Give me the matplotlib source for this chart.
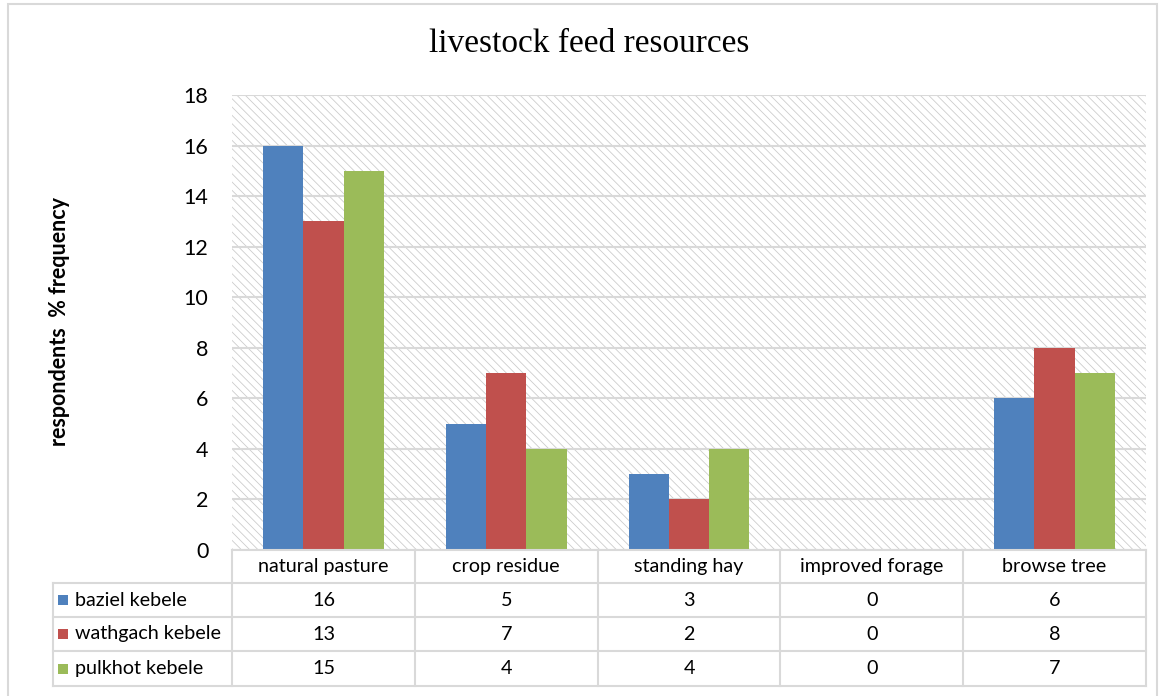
import matplotlib
matplotlib.use("Agg")
import matplotlib.pyplot as plt
from matplotlib.patches import Rectangle
from matplotlib.lines import Line2D

categories = ["natural pasture", "crop residue", "standing hay", "improved forage", "browse tree"]
series_names = ["baziel kebele", "wathgach kebele", "pulkhot kebele"]
baziel = [16, 5, 3, 0, 6]
wathgach = [13, 7, 2, 0, 8]
pulkhot = [15, 4, 4, 0, 7]
series_values = [baziel, wathgach, pulkhot]
colors = ["#4F81BD", "#C0504D", "#9BBB59"]

W, H = 1166, 696
plt.rcParams["font.family"] = ["Lato", "DejaVu Sans"]
plt.rcParams["hatch.linewidth"] = 0.6

fig = plt.figure(figsize=(W / 100, H / 100), dpi=100)


def fx(x):
    return x / W


def fy(y):
    return 1 - y / H


# plot area in pixel terms
left, right, top, bottom = 232, 1146, 95, 550
ax = fig.add_axes([fx(left), fy(bottom), fx(right - left), (bottom - top) / H])

# hatched background
ax.add_patch(Rectangle((0, 0), 1, 1, transform=ax.transAxes, facecolor="white",
                       edgecolor="#cccccc", hatch="\\\\\\\\", linewidth=0, zorder=0))

ax.set_ylim(0, 18)
ax.set_yticks(range(0, 19, 2))
ax.set_xlim(-0.5, len(categories) - 0.5)
ax.set_xticks([])
ax.grid(axis="y", color="#d9d9d9", linewidth=1.5, zorder=1)
ax.set_axisbelow(True)
for side in ["top", "right", "left"]:
    ax.spines[side].set_visible(False)
ax.spines["bottom"].set_color("#d9d9d9")
ax.spines["bottom"].set_linewidth(1.5)
ax.tick_params(axis="y", length=0, pad=17, labelsize=15.5)

bw = 0.22
for i, (vals, c) in enumerate(zip(series_values, colors)):
    xs = [k + (i - 1) * bw for k in range(len(categories))]
    ax.bar(xs, vals, width=bw, color=c, zorder=2)

fig.text(0.505, fy(44), "livestock feed resources", ha="center", va="center",
         fontsize=24, family=["Liberation Serif", "DejaVu Serif"])
fig.text(fx(60), fy(322), "respondents  % frequency", rotation=90, ha="center",
         va="center", fontsize=15.5, fontweight="bold")

# data table under the axis
row_y = [550, 583, 617, 651, 686]
lab_left = 53
grid_kw = dict(color="#d9d9d9", linewidth=1.5, transform=fig.transFigure)


def cat_px(v):
    return left + (v + 0.5) * (right - left) / len(categories)


for k in range(len(categories) + 1):
    x = cat_px(k - 0.5)
    fig.add_artist(Line2D([fx(x), fx(x)], [fy(row_y[0]), fy(row_y[-1])], **grid_kw))
fig.add_artist(Line2D([fx(lab_left), fx(lab_left)], [fy(row_y[1]), fy(row_y[-1])], **grid_kw))
for y in row_y[1:]:
    fig.add_artist(Line2D([fx(lab_left), fx(right)], [fy(y), fy(y)], **grid_kw))

for k, cat in enumerate(categories):
    yc = (row_y[0] + row_y[1]) / 2
    fig.text(fx(cat_px(k)), fy(yc), cat, ha="center", va="center", fontsize=14.2)
    for r, vals in enumerate(series_values):
        yc = (row_y[r + 1] + row_y[r + 2]) / 2
        fig.text(fx(cat_px(k)), fy(yc), str(vals[k]), ha="center", va="center", fontsize=14.2)

for r, (name, c) in enumerate(zip(series_names, colors)):
    yc = (row_y[r + 1] + row_y[r + 2]) / 2
    fig.add_artist(Rectangle((fx(58), fy(yc + 5)), 10 / W, 10 / H, facecolor=c,
                             edgecolor="none", transform=fig.transFigure))
    fig.text(fx(75), fy(yc), name, ha="left", va="center", fontsize=14.2)

# chart frame
fig.add_artist(Rectangle((fx(8), fy(700)), (W - 9 - 8) / W, 696 / H, fill=False,
                         edgecolor="#d9d9d9", linewidth=1.5, transform=fig.transFigure))

fig.savefig("out.png", dpi=100, facecolor="white")
